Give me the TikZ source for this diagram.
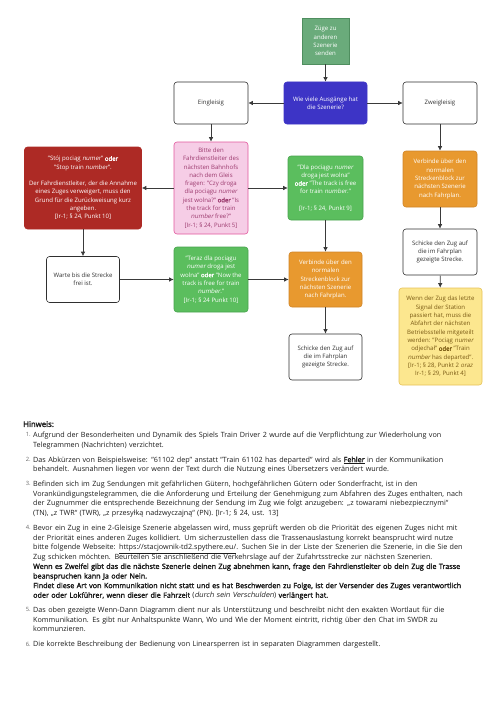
\documentclass[tikz,border=0pt]{standalone}
\usepackage{fontspec}
\setmainfont{Open Sans}[AutoFakeBold=2.2, AutoFakeSlant=0.18]
\usepackage{enumitem}
\usetikzlibrary{arrows.meta}

\definecolor{sendgreen}{HTML}{6AAB7B}
\definecolor{sendgreenb}{HTML}{4F8E5F}
\definecolor{askblue}{HTML}{3D34C6}
\definecolor{stopred}{HTML}{AD2A25}
\definecolor{pinkfill}{HTML}{F6CDE6}
\definecolor{pinkline}{HTML}{E2579D}
\definecolor{pinktext}{HTML}{9C3A6E}
\definecolor{freegreen}{HTML}{5BBE5E}
\definecolor{freegreenb}{HTML}{48A24D}
\definecolor{blockorange}{HTML}{E8992F}
\definecolor{blockorangeb}{HTML}{CF8427}
\definecolor{yellowfill}{HTML}{FCE78F}
\definecolor{yellowline}{HTML}{E6C257}
\definecolor{yellowtext}{HTML}{7A5A14}
\definecolor{boxline}{HTML}{2F2F2F}
\definecolor{boxtext}{HTML}{333333}
\definecolor{linkgray}{HTML}{3A3A3A}
\definecolor{notetext}{HTML}{1C1C1C}
\definecolor{numgray}{HTML}{666666}

\newcommand{\boxfont}{\fontsize{6.05}{8.3}\selectfont}
\newcommand{\notefont}{\fontsize{7.2}{9.6}\selectfont}

\tikzset{
  box/.style={draw=boxline, fill=white, rounded corners=3pt, align=center, font=\boxfont,
    text=boxtext, inner sep=1pt, line width=0.6pt},
  link/.style={draw=linkgray, line width=0.7pt, -{Latex[length=4.5pt,width=4.5pt]}},
}

\begin{document}
\begin{tikzpicture}[x=1pt,y=-1pt]
\useasboundingbox (0,0) rectangle (500,706);

% top of the chart
\node[box, sharp corners, fill=sendgreen, draw=sendgreenb, text=white,
  minimum width=47pt, minimum height=46pt] (send) at (325.5,41) {Züge zu\\anderen\\Szenerie\\senden};
\node[box, fill=askblue, draw=askblue, text=white,
  minimum width=83pt, minimum height=42pt] (exits) at (325.5,103) {Wie viele Ausgänge hat\\die Szenerie?};
\node[box, minimum width=74pt, minimum height=42pt] (single) at (211,103) {Eingleisig};
\node[box, minimum width=74pt, minimum height=42pt] (double) at (440,103) {Zweigleisig};

% eingleisig
\node[box, fill=pinkfill, draw=pinkline, text=pinktext,
  minimum width=74pt, minimum height=92pt] (askfree) at (211,188)
  {Bitte den\\Fahrdienstleiter des\\nächsten Bahnhofs\\nach dem Gleis\\fragen: "Czy droga\\dla pociągu \textit{numer}\\jest wolna?" \textbf{oder} "Is\\the track for train\\\textit{number} free?"\\{[}Ir-1; § 24, Punkt 5{]}};
\node[box, fill=stopred, draw=stopred, text=white,
  minimum width=117pt, minimum height=82pt] (stop) at (83,188)
  {"Stój pociąg \textit{numer}" \textbf{oder}\\"Stop train \textit{number}".\\[8.3pt]Der Fahrdienstleiter, der die Annahme\\eines Zuges verweigert, muss den\\Grund für die Zurückweisung kurz\\angeben.\\{[}Ir-1; § 24, Punkt 10{]}};
\node[box, fill=freegreen, draw=freegreenb, text=white,
  minimum width=75pt, minimum height=64pt] (free) at (325.5,188)
  {"Dla pociągu \textit{numer}\\droga jest wolna"\\\textbf{oder} "The track is free\\for train \textit{number}."\\[8.3pt]{[}Ir-1; § 24, Punkt 9{]}};
\node[box, minimum width=73pt, minimum height=46pt] (wait) at (83,279.5) {Warte bis die Strecke\\frei ist.};
\node[box, fill=freegreen, draw=freegreenb, text=white,
  minimum width=74pt, minimum height=65pt] (nowfree) at (211,279.5)
  {"Teraz dla pociągu\\\textit{numer} droga jest\\wolna" \textbf{oder} "Now the\\track is free for train\\\textit{number}."\\{[}Ir-1; § 24 Punkt 10{]}};
\node[box, fill=blockorange, draw=blockorangeb, text=white,
  minimum width=73pt, minimum height=55pt] (connect) at (325.5,279.5)
  {Verbinde über den\\normalen\\Streckenblock zur\\nächsten Szenerie\\nach Fahrplan.};
\node[box, minimum width=73pt, minimum height=46pt] (sendon) at (325.5,357) {Schicke den Zug auf\\die im Fahrplan\\gezeigte Strecke.};

% zweigleisig
\node[box, fill=blockorange, draw=blockorangeb, text=white,
  minimum width=74pt, minimum height=56pt] (connectb) at (440,179)
  {Verbinde über den\\normalen\\Streckenblock zur\\nächsten Szenerie\\nach Fahrplan.};
\node[box, minimum width=74pt, minimum height=46pt] (sendonb) at (440,252) {Schicke den Zug auf\\die im Fahrplan\\gezeigte Strecke.};
\node[box, fill=yellowfill, draw=yellowline, text=yellowtext,
  minimum width=83pt, minimum height=97pt] (report) at (440.5,336.5)
  {Wenn der Zug das letzte\\Signal der Station\\passiert hat, muss die\\Abfahrt der nächsten\\Betriebsstelle mitgeteilt\\werden: "Pociąg \textit{numer}\\odjechał" \textbf{oder} "Train\\\textit{number} has departed".\\{[}Ir-1; § 28, Punkt 2 \textit{oraz}\\Ir-1; § 29, Punkt 4{]}};

% arrows
\draw[link] (send) -- (exits);
\draw[link] (exits) -- (single);
\draw[link] (exits) -- (double);
\draw[link] (single) -- (askfree);
\draw[link] (askfree) -- (stop);
\draw[link] (askfree) -- (free);
\draw[link] (stop) -- (wait);
\draw[link] (wait) -- (nowfree);
\draw[link] (nowfree) -- (connect);
\draw[link] (free) -- (connect);
\draw[link] (connect) -- (sendon);
\draw[link] (double) -- (connectb);
\draw[link] (connectb) -- (sendonb);
\draw[link] (sendonb) -- (report);

% notes
\node[anchor=north west, text width=449pt, inner sep=0pt, font=\notefont, text=notetext] (notes) at (23,421) {%
{\fontsize{7.8}{9}\selectfont\bfseries Hinweis:}\par
\begin{enumerate}[label={\raisebox{0.8pt}{\fontsize{5.8}{6}\selectfont\color{numgray}\arabic*.}},
  leftmargin=10pt, labelsep=2.5pt, topsep=1pt, partopsep=0pt, itemsep=5.4pt, parsep=0pt]
\item Aufgrund der Besonderheiten und Dynamik des Spiels Train Driver 2 wurde auf die Verpflichtung zur Wiederholung von\linebreak
Telegrammen (Nachrichten) verzichtet.
\item Das Abkürzen von Beispielsweise: "61102 dep" anstatt "Train 61102 has departed" wird als \underline{\textbf{Fehler}} in der Kommunikation\linebreak
behandelt. Ausnahmen liegen vor wenn der Text durch die Nutzung eines Übersetzers verändert wurde.
\item Befinden sich im Zug Sendungen mit gefährlichen Gütern, hochgefährlichen Gütern oder Sonderfracht, ist in den\linebreak
Vorankündigungstelegrammen, die die Anforderung und Erteilung der Genehmigung zum Abfahren des Zuges enthalten, nach\linebreak
der Zugnummer die entsprechende Bezeichnung der Sendung im Zug wie folgt anzugeben: „z towarami niebezpiecznymi“\linebreak
(TN), „z TWR“ (TWR), „z przesyłką nadzwyczajną“ (PN). [Ir-1; § 24, ust. 13]
\item Bevor ein Zug in eine 2-Gleisige Szenerie abgelassen wird, muss geprüft werden ob die Priorität des eigenen Zuges nicht mit\linebreak
der Priorität eines anderen Zuges kollidiert. Um sicherzustellen dass die Trassenauslastung korrekt beansprucht wird nutze\linebreak
bitte folgende Webseite: \underline{https://stacjownik-td2.spythere.eu/}. Suchen Sie in der Liste der Szenerien die Szenerie, in die Sie den\linebreak
Zug schicken möchten. Beurteilen Sie anschließend die Verkehrslage auf der Zufahrtsstrecke zur nächsten Szenerien.\\
\textbf{Wenn es Zweifel gibt das die nächste Szenerie deinen Zug abnehmen kann, frage den Fahrdienstleiter ob dein Zug die Trasse\linebreak
beanspruchen kann Ja oder Nein.}\\
\textbf{Findet diese Art von Kommunikation nicht statt und es hat Beschwerden zu Folge, ist der Versender des Zuges verantwortlich\linebreak
oder oder Lokführer, wenn dieser die Fahrzeit} (\textit{durch sein Verschulden}) \textbf{verlängert hat.}
\item Das oben gezeigte Wenn-Dann Diagramm dient nur als Unterstützung und beschreibt nicht den exakten Wortlaut für die\linebreak
Kommunikation. Es gibt nur Anhaltspunkte Wann, Wo und Wie der Moment eintritt, richtig über den Chat im SWDR zu\linebreak
kommunzieren.
\item Die korrekte Beschreibung der Bedienung von Linearsperren ist in separaten Diagrammen dargestellt.
\end{enumerate}};
\end{tikzpicture}
\end{document}
